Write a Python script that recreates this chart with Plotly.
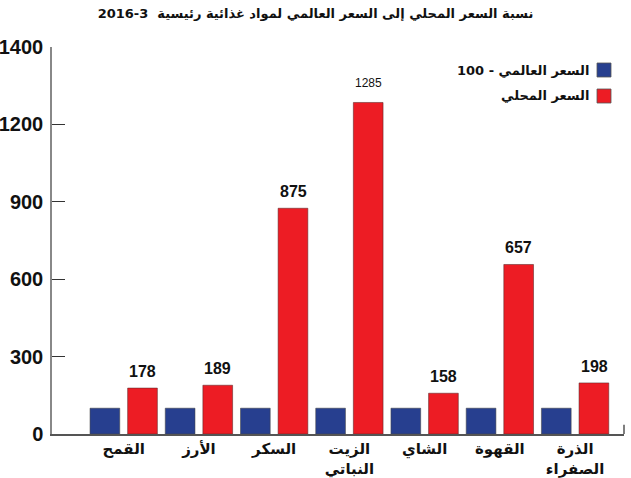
import plotly.graph_objects as go

# بيانات الرسم
categories = ["القمح", "الأرز", "السكر", "الزيت<br>النباتي", "الشاي", "القهوة", "الذرة<br>الصفراء"]
world_price = [100, 100, 100, 100, 100, 100, 100]
local_price = [178, 189, 875, 1285, 158, 657, 198]
tick_vals = [0, 300, 600, 900, 1200, 1500]
tick_text = ["0", "300", "600", "900", "1200", "1400"]

BLUE = "#273f8f"
RED = "#ed1c24"
NUM_FONT = "Liberation Sans, Arial, sans-serif"
AR_FONT = "DejaVu Sans, Noto Sans, sans-serif"

fig = go.Figure()
fig.add_trace(go.Bar(x=categories, y=world_price, name="السعر العالمي - 100",
                     marker=dict(color=BLUE, line=dict(color="rgba(70,70,70,0.55)", width=1))))
fig.add_trace(go.Bar(x=categories, y=local_price, name="السعر المحلي",
                     marker=dict(color=RED, line=dict(color="rgba(90,40,40,0.55)", width=1))))

# قيم فوق الأعمدة الحمراء
for cat, v in zip(categories, local_price):
    small = v > 1000
    fig.add_annotation(x=cat, y=v, text=str(v), showarrow=False, xref="x", yref="y",
                       xshift=19, yanchor="bottom", yshift=6 if not small else 10,
                       font=dict(family=NUM_FONT, size=12 if small else 16, color="#111",
                                 weight="normal" if small else "bold"))

# وسيلة إيضاح يدوية (المربع على اليمين)
legend_items = [("100 - السعر العالمي", BLUE, 70), ("السعر المحلي", RED, 96)]
for label, col, yc in legend_items:
    fig.add_shape(type="rect", xref="paper", yref="paper",
                  x0=(597 - 52) / 572, x1=(611 - 52) / 572,
                  y0=(434 - yc - 7) / 387, y1=(434 - yc + 7) / 387,
                  fillcolor=col, line=dict(color="#555", width=0.8))
    fig.add_annotation(xref="paper", yref="paper", x=(591 - 52) / 572, y=(434 - yc) / 387,
                       text=label, showarrow=False, xanchor="right", yanchor="middle",
                       font=dict(family=AR_FONT, size=13, color="#111", weight="bold"))

# علامة صغيرة في نهاية خط القاعدة
fig.add_shape(type="line", xref="paper", yref="paper", x0=1, x1=1, y0=0, y1=0.024,
              line=dict(color="#555", width=1.5))

fig.update_layout(
    width=631, height=478,
    margin=dict(l=52, r=7, t=47, b=44, autoexpand=False),
    paper_bgcolor="white", plot_bgcolor="white",
    barmode="group", bargap=0, bargroupgap=0.21,
    showlegend=False,
    title=dict(text="2016-3  نسبة السعر المحلي إلى السعر العالمي لمواد غذائية رئيسية",
               x=0.5, xanchor="center", y=0.972, yanchor="middle",
               font=dict(family=AR_FONT, size=13, color="#111", weight="bold")),
    xaxis=dict(range=[-0.953, 6.65], showline=True, linecolor="#555", linewidth=2,
               showgrid=False, ticks="", zeroline=False, automargin=False,
               tickfont=dict(family=AR_FONT, size=15, color="#111", weight="bold")),
    yaxis=dict(range=[0, 1500], tickvals=tick_vals, ticktext=tick_text, automargin=False,
               showline=True, linecolor="#888", linewidth=1.5, showgrid=False, zeroline=False,
               ticks="inside", ticklen=13, tickcolor="#333", tickwidth=1.2, ticklabelstandoff=3,
               tickfont=dict(family=NUM_FONT, size=20, color="#111", weight="bold")),
)

# بدون هامش الصفحة الافتراضي وبدون شريط الأدوات
fig.write_html("out.html", config={"displayModeBar": False},
               post_script="document.body.style.margin='0';")
